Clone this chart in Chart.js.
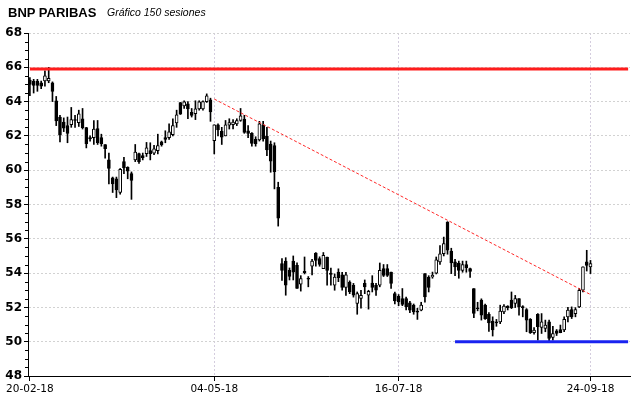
<!DOCTYPE html>
<html><head><meta charset="utf-8">
<script src="https://cdn.jsdelivr.net/npm/chart.js@4/dist/chart.umd.min.js"></script>
<style>
html,body{margin:0;padding:0;background:#fff;}
#wrap{position:relative;width:640px;height:398px;overflow:hidden;}
canvas{position:absolute;left:0;top:0;}
#t1{position:absolute;left:8px;top:6px;font:bold 13px "Liberation Sans",Arial,sans-serif;line-height:13px;color:#000;white-space:nowrap;}
#t2{position:absolute;left:107px;top:6px;font:italic 10.5px "Liberation Sans",Arial,sans-serif;line-height:13px;color:#000;white-space:nowrap;}
</style></head><body>
<div id="wrap"><canvas id="c" width="640" height="398"></canvas>
<div id="t1">BNP PARIBAS</div><div id="t2">Gráfico 150 sesiones</div></div>
<script>
// Daily OHLC, 150 sessions
const open = [65.25,65.2,65.2,65.1,65.2,65.2,65.1,64.05,63.1,62.8,62.6,62.65,62.95,62.77,63.0,62.48,61.9,61.9,62.42,61.9,
61.5,60.6,59.55,59.5,58.7,60.5,60.17,59.8,60.6,60.97,60.85,60.97,61.14,61.0,61.14,61.66,61.9,61.9,62.07,62.75,
63.95,63.75,63.87,63.37,63.3,63.58,63.58,64.0,64.1,61.72,62.65,62.26,62.0,62.63,62.65,62.7,62.9,62.98,62.3,62.15,
61.8,61.76,62.65,61.97,61.53,61.43,59.0,54.55,54.7,54.16,54.7,54.45,53.35,54.1,53.7,54.4,55.17,54.84,54.26,54.94,
54.0,53.29,54.06,53.9,53.16,53.48,53.29,52.23,52.52,53.4,52.71,53.42,53.29,53.29,54.26,54.26,54.06,52.81,52.65,52.52,
52.52,52.26,52.13,51.76,51.84,53.97,53.77,53.77,54.0,54.65,55.13,56.97,55.29,54.65,54.59,54.16,54.5,54.26,53.1,51.97,
52.42,52.13,51.6,51.2,51.16,51.16,51.74,52.07,52.42,52.23,52.52,52.03,51.88,51.3,50.52,51.59,50.83,50.77,51.16,50.25,
50.64,50.71,50.68,51.45,51.88,51.64,52.03,53.0,54.65,54.36];
const high = [65.4,65.3,65.3,65.2,65.8,66.0,65.15,64.3,63.2,63.05,63.1,63.66,63.2,63.5,63.6,62.5,62.0,62.9,62.9,62.1,
61.5,61.0,59.6,59.6,60.1,60.75,60.2,59.9,61.5,61.0,61.0,61.62,61.6,61.45,62.1,61.7,62.3,62.7,63.0,63.5,
63.95,64.05,64.0,63.6,64.05,64.05,64.05,64.45,64.2,62.65,62.7,62.5,62.9,63.0,62.95,63.0,63.6,63.2,62.6,62.2,
61.95,62.85,62.85,62.5,61.7,61.6,59.3,54.84,54.9,54.3,55.0,54.6,53.85,54.94,53.8,54.8,55.2,54.95,55.2,54.94,
54.3,53.95,54.25,54.05,54.05,53.55,53.4,52.9,53.0,53.6,53.0,53.85,53.4,54.59,54.5,54.5,54.06,52.9,52.75,53.1,
52.6,52.35,52.2,51.95,52.3,53.97,53.85,54.06,54.94,55.6,56.1,57.0,55.45,54.8,54.7,54.7,54.7,54.3,53.1,52.3,
52.5,52.2,51.7,51.45,51.3,52.13,52.17,52.1,52.9,52.7,52.52,52.1,51.93,51.35,50.83,51.64,51.64,51.26,51.26,50.9,
50.71,50.97,51.45,52.0,52.03,51.99,53.1,54.36,55.33,54.74];
const low = [64.35,64.5,64.6,64.75,64.9,65.1,64.0,62.6,61.65,62.25,61.6,62.5,62.5,62.55,62.4,61.3,61.7,61.5,61.5,61.4,
60.7,59.2,58.7,58.4,58.6,59.8,59.5,58.3,60.5,60.4,60.6,60.8,60.6,60.9,60.95,61.4,61.6,61.8,62.0,62.5,
63.25,63.6,63.0,63.1,62.95,63.5,63.5,63.95,62.85,60.95,62.0,61.5,62.0,62.4,62.4,62.6,62.85,62.15,61.9,61.4,
61.4,61.7,61.7,60.85,59.88,58.91,56.74,53.58,52.71,53.6,53.6,53.1,52.95,53.95,53.2,53.9,54.4,54.4,54.26,53.3,
53.3,53.0,53.5,53.0,52.7,52.8,52.6,51.6,51.95,52.8,51.9,52.9,52.7,53.2,53.8,53.8,53.1,52.2,52.1,52.1,
51.85,51.7,51.6,51.3,51.8,52.3,52.9,53.7,53.95,54.5,55.0,55.1,53.97,53.85,53.7,54.05,54.05,53.75,51.4,51.8,
51.26,51.3,50.6,50.33,50.9,51.05,51.64,51.85,51.93,51.99,51.55,51.45,50.58,50.48,50.44,50.09,50.48,50.58,50.0,50.09,
50.36,50.52,50.58,51.16,51.35,51.45,51.99,52.9,54.12,53.97];
const close = [65.0,64.95,64.95,64.9,65.5,65.35,64.6,62.88,62.05,62.45,62.15,62.95,62.9,63.29,62.48,61.55,61.82,62.4,61.6,61.55,
61.25,60.1,59.2,58.85,60.05,60.13,59.95,59.4,61.06,60.5,60.73,61.3,60.97,61.25,61.43,61.47,61.8,62.24,62.6,63.23,
63.27,63.99,63.58,63.2,63.58,63.99,64.0,64.34,63.4,62.65,62.35,61.92,62.65,62.78,62.8,62.9,63.17,62.2,62.15,61.56,
61.55,62.7,61.82,61.18,60.52,59.92,57.2,54.16,53.3,53.8,54.06,53.1,53.68,54.02,53.64,54.7,54.74,54.5,55.03,54.16,
53.93,53.77,53.74,53.16,53.9,52.9,52.71,52.81,52.71,53.2,52.94,53.16,53.0,54.16,53.87,53.87,53.4,52.38,52.32,52.17,
52.03,51.84,51.74,51.72,52.13,52.61,53.16,53.87,54.78,55.13,55.72,55.33,54.6,54.36,54.16,54.5,54.32,54.1,51.65,51.92,
51.55,51.35,51.1,50.68,51.1,51.78,52.07,51.99,51.99,52.52,52.03,51.99,51.26,50.52,50.68,50.87,51.16,50.97,50.19,50.48,
50.48,50.52,51.3,51.84,51.45,51.88,53.0,54.36,54.45,54.55];

// x axis: session slots (150 sessions + empty room on the right) and dated ticks
const totalSlots = 160;
const tickLabels = ['20-02-18','04-05-18','16-07-18','24-09-18'];
const tickSessions = [0, 49, 98, 149];

// drawn levels: [session index, price]
const resistance = [[0, 65.9], [159, 65.9]];
const support = [[113, 50.0], [159, 50.0]];
const trend = [[49, 64.15], [149, 52.75]];

// y axis
const yMin = 48, yMax = 68, yStep = 2, yMinorStep = 0.5;

const labels = Array.from({length: totalSlots}, (_, i) => {
  const k = tickSessions.indexOf(i); return k >= 0 ? tickLabels[k] : '';
});
const padTo = a => a.concat(Array(totalSlots - a.length).fill(null));
const sparse = pts => { const a = Array(totalSlots).fill(null); pts.forEach(p => { a[p[0]] = p[1]; }); return a; };
const wickData = padTo(low.map((l, i) => [l, high[i]]));
const bodyData = padTo(open.map((o, i) => [o, close[i]]));
const bodyFill = open.map((o, i) => close[i] >= o ? '#ffffff' : '#000000');

const minorTicks = {
  id: 'minorTicks',
  afterDraw(chart) {
    const y = chart.scales.y, ctx = chart.ctx;
    ctx.save(); ctx.strokeStyle = '#000'; ctx.lineWidth = 1; ctx.beginPath();
    for (let v = yMin; v <= yMax + 1e-9; v += yMinorStep) {
      if (Math.abs(v / yStep - Math.round(v / yStep)) < 1e-6) continue;
      const py = Math.round(y.getPixelForValue(v)) + 0.5;
      ctx.moveTo(y.right - 3, py); ctx.lineTo(y.right, py);
    }
    ctx.stroke(); ctx.restore();
  }
};

new Chart(document.getElementById('c'), {
  type: 'bar',
  data: {
    labels: labels,
    datasets: [
      { type: 'line', data: sparse(resistance), borderColor: 'rgb(255,28,28)', borderWidth: 3, pointRadius: 0, spanGaps: true, order: 0 },
      { type: 'line', data: sparse(support), borderColor: 'rgb(25,35,240)', borderWidth: 3, pointRadius: 0, spanGaps: true, order: 0 },
      { type: 'line', data: sparse(trend), borderColor: 'rgb(255,40,40)', borderWidth: 1, borderDash: [3, 2], pointRadius: 0, spanGaps: true, order: 0 },
      { data: bodyData, backgroundColor: bodyFill, borderColor: '#000', borderWidth: 1, borderSkipped: false,
        barThickness: 3, grouped: false, minBarLength: 1, order: 1 },
      { data: wickData, backgroundColor: '#000', borderWidth: 0, barThickness: 1, grouped: false, order: 2 }
    ]
  },
  options: {
    responsive: false, animation: false,
    layout: { padding: { left: 0, right: 10, top: 33, bottom: 0 } },
    plugins: { legend: { display: false }, tooltip: { enabled: false } },
    scales: {
      x: {
        type: 'category', offset: true,
        grid: {
          offset: false, lineWidth: 1, tickLength: 5,
          color: c => (c.index > 0 && labels[c.index]) ? 'rgb(212,205,222)' : 'rgba(0,0,0,0)',
          tickColor: c => labels[c.index] ? '#000' : 'rgba(0,0,0,0)'
        },
        border: { color: '#000', width: 1, dash: [2, 2] },
        ticks: { autoSkip: false, maxRotation: 0, minRotation: 0, padding: 2, color: '#000',
          font: { family: 'DejaVu Sans', size: 10.5 }, callback: (v, i) => labels[i] },
        afterFit: s => { s.height = 22; }
      },
      y: {
        min: yMin, max: yMax,
        ticks: { stepSize: yStep, padding: 2, color: '#000', font: { family: 'DejaVu Sans', size: 12, weight: 'bold' } },
        grid: { color: 'rgb(210,210,210)', tickColor: '#000', tickLength: 4, lineWidth: 1 },
        border: { color: '#000', width: 1, dash: [2, 2] },
        afterFit: s => { s.width = 28; }
      }
    }
  },
  plugins: [minorTicks]
});
</script>
</body></html>
